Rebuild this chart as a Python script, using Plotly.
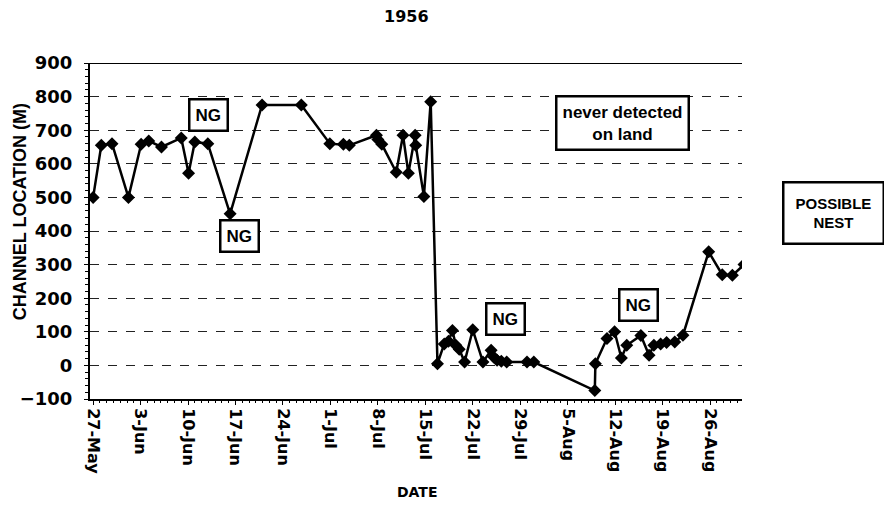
import plotly.graph_objects as go

# channel location readings (date/time, metres)
dates = [
    "1956-05-27 00:00", "1956-05-28 05:00", "1956-05-29 19:00", "1956-06-01 05:00",
    "1956-06-03 02:00", "1956-06-04 05:00", "1956-06-06 02:00", "1956-06-09 00:00",
    "1956-06-10 02:00", "1956-06-11 00:00", "1956-06-12 22:00", "1956-06-16 05:00",
    "1956-06-20 22:00", "1956-06-26 17:00", "1956-06-30 22:00", "1956-07-02 22:00",
    "1956-07-03 19:00", "1956-07-07 19:00", "1956-07-08 00:00", "1956-07-08 14:00",
    "1956-07-10 17:00", "1956-07-11 17:00", "1956-07-12 12:00", "1956-07-13 12:00",
    "1956-07-13 14:00", "1956-07-14 19:00", "1956-07-15 19:00", "1956-07-16 19:00",
    "1956-07-17 19:00", "1956-07-18 10:00", "1956-07-19 00:00", "1956-07-19 12:00",
    "1956-07-20 00:00", "1956-07-20 19:00", "1956-07-22 00:00", "1956-07-23 12:00",
    "1956-07-24 17:00", "1956-07-25 02:00", "1956-07-25 14:00", "1956-07-26 05:00",
    "1956-07-27 00:00", "1956-07-30 00:00", "1956-07-31 00:00", "1956-08-09 00:00",
    "1956-08-09 02:00", "1956-08-10 19:00", "1956-08-11 22:00", "1956-08-12 22:00",
    "1956-08-13 17:00", "1956-08-15 19:00", "1956-08-17 00:00", "1956-08-17 17:00",
    "1956-08-18 17:00", "1956-08-19 14:00", "1956-08-20 19:00", "1956-08-22 00:00",
    "1956-08-25 19:00", "1956-08-27 19:00", "1956-08-29 07:00", "1956-08-31 00:00",
]
location = [
    500, 655, 660, 500,
    658, 668, 650, 677,
    572, 665, 660, 451,
    775, 775, 660, 658,
    655, 685, 672, 658,
    575, 685, 572, 685,
    655, 503, 785, 5,
    64, 72, 104, 60,
    48, 10, 106, 10,
    45, 25, 15, 12,
    10, 10, 10, -75,
    5, 80, 100, 22,
    60, 89, 30, 60,
    64, 68, 70, 90,
    338, 270, 268, 300,
]

tick_dates = ["1956-05-27", "1956-06-03", "1956-06-10", "1956-06-17", "1956-06-24",
              "1956-07-01", "1956-07-08", "1956-07-15", "1956-07-22", "1956-07-29",
              "1956-08-05", "1956-08-12", "1956-08-19", "1956-08-26"]
tick_text = ["27-May", "3-Jun", "10-Jun", "17-Jun", "24-Jun", "1-Jul", "8-Jul",
             "15-Jul", "22-Jul", "29-Jul", "5-Aug", "12-Aug", "19-Aug", "26-Aug"]

bold = "DejaVu Sans"
arial = "Liberation Sans"

fig = go.Figure()
fig.add_trace(go.Scatter(
    x=dates, y=location, mode="lines+markers",
    line=dict(color="black", width=2.5),
    marker=dict(symbol="diamond", size=10, color="black"),
    showlegend=False,
))

# page has an 8px body margin, so the figure is offset by 8px
fig.update_layout(
    width=892, height=514,
    margin=dict(l=80, r=158, t=55, b=123),
    paper_bgcolor="white", plot_bgcolor="white",
    font=dict(family=bold, color="black"),
)

fig.update_xaxes(
    range=["1956-05-26 13:00", "1956-08-30 17:00"],
    tickvals=tick_dates, ticktext=tick_text, tickangle=90,
    tickfont=dict(family=bold, size=16, weight="bold"),
    showgrid=False, zeroline=False,
    showline=True, linecolor="black", linewidth=2,
    ticks="outside", ticklen=4, tickcolor="black",
    minor=dict(dtick=86400000, ticks="outside", ticklen=2, tickcolor="black"),
)
fig.update_yaxes(
    range=[-100, 900], dtick=100,
    tickfont=dict(family=bold, size=18, weight="bold"),
    ticklabelstandoff=8,
    showgrid=True, gridcolor="#222", gridwidth=1, griddash="dash",
    zeroline=False,
    showline=True, linecolor="black", linewidth=2,
    ticks="outside", ticklen=4, tickcolor="black",
    minor=dict(dtick=20, ticks="outside", ticklen=3, tickcolor="black", showgrid=False),
)

# solid top border of the plot area
fig.add_shape(type="line", xref="paper", yref="y", x0=0, x1=1, y0=900, y1=900,
              line=dict(color="black", width=2))

def note(text, x, y, size, family, boxed=True, pad=5, angle=0):
    kw = dict(text=text, xref="paper", yref="paper", x=x, y=y, showarrow=False,
              xanchor="center", yanchor="middle", textangle=angle,
              font=dict(family=family, size=size))
    if boxed:
        kw.update(bordercolor="black", borderwidth=2.5, borderpad=pad, bgcolor="white")
    fig.add_annotation(**kw)

note("<b>1956</b>", 0.485, 1.137, 16, bold, boxed=False)
note("<b>DATE</b>", 0.502, -0.277, 14, bold, boxed=False)
note("<b>CHANNEL LOCATION (M)</b>", (18 - 88) / 654, (399 - 212) / 336, 18, arial,
     boxed=False, angle=-90)
note("<b>NG</b>", 0.182, 0.845, 17, arial, pad=5)
note("<b>NG</b>", 0.229, 0.485, 17, arial, pad=5)
note("<b>NG</b>", 0.638, 0.238, 17, arial, pad=5)
note("<b>NG</b>", 0.841, 0.280, 17, arial, pad=5)
note("<b>never detected<br>on land</b>", 0.817, 0.820, 17, arial, pad=5)
note("<b>POSSIBLE<br>NEST</b>", 1.141, 0.553, 15, arial, pad=11)

fig.write_html("out.html")
